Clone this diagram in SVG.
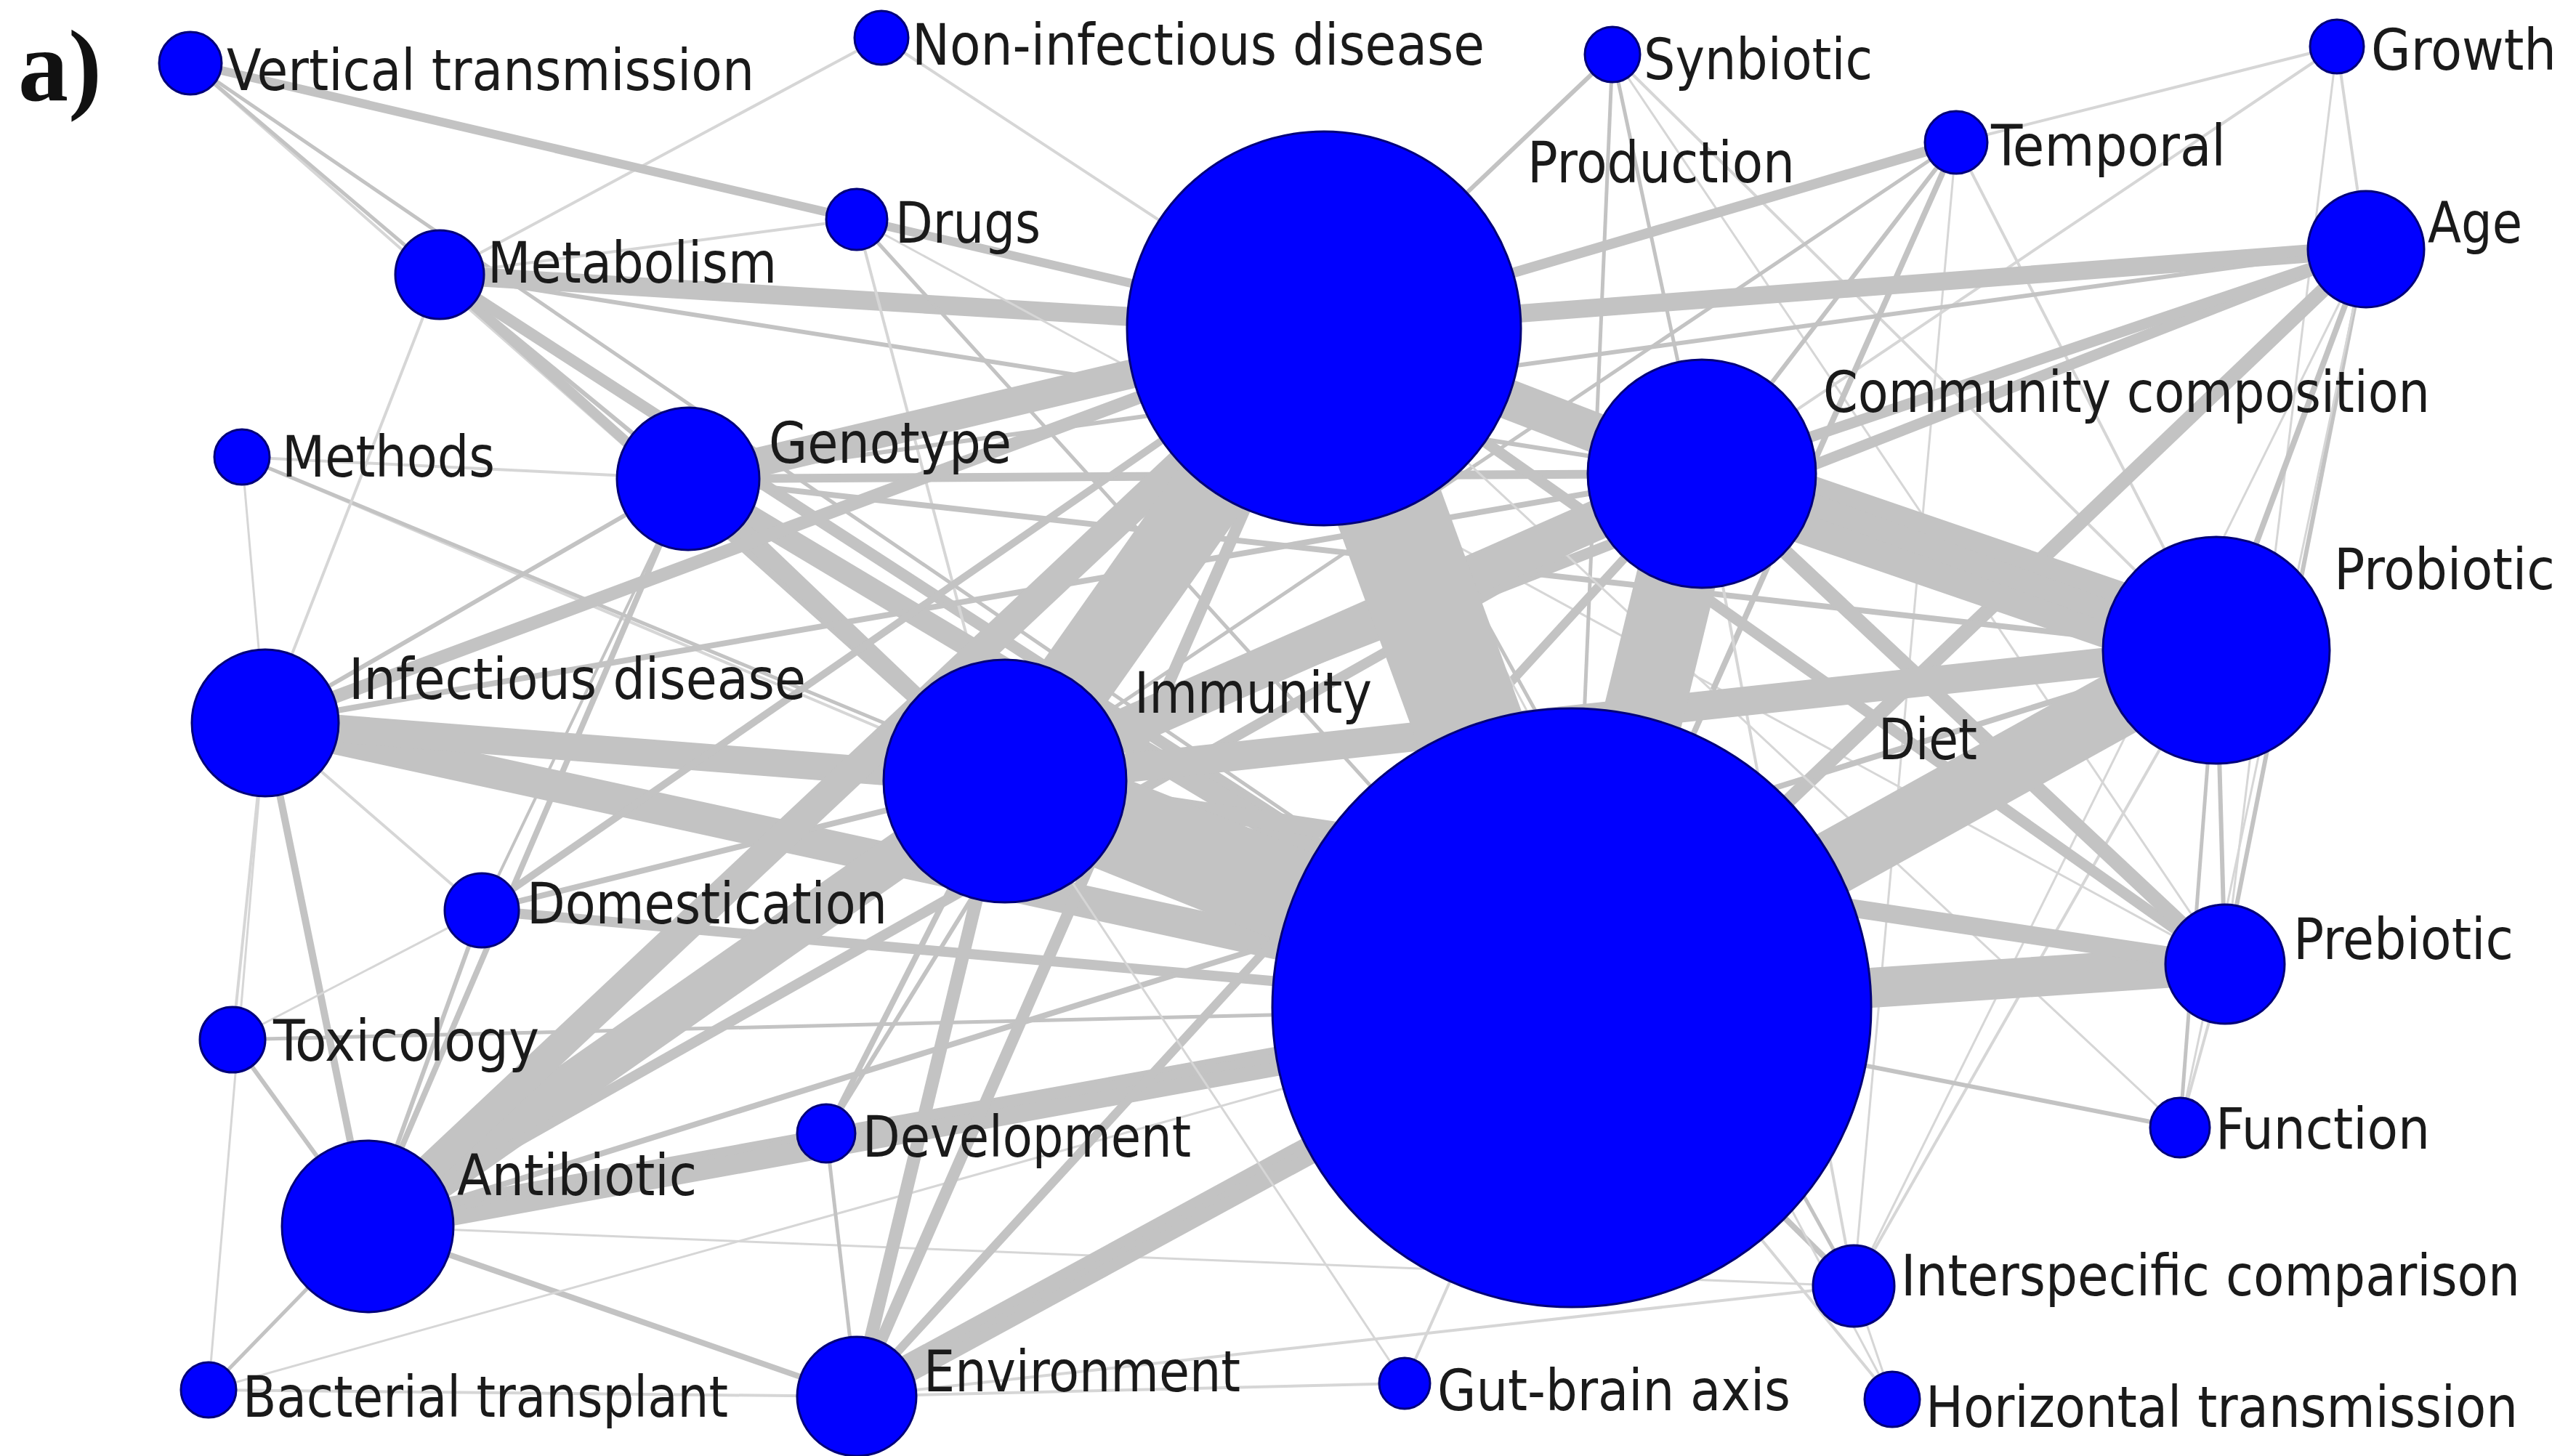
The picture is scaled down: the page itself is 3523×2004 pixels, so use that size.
<svg xmlns="http://www.w3.org/2000/svg" width="3523" height="2004" viewBox="0 0 3523 2004">
<style>
.e{stroke:#c3c3c3;stroke-linecap:butt}
.t{stroke:#d6d6d6;stroke-linecap:butt}
.n{fill:#0000ff;stroke:#00007a;stroke-width:3}
.l{font-family:"DejaVu Sans Condensed","DejaVu Sans",sans-serif;font-size:78px;fill:#1a1a1a}
.h{font-family:"Liberation Serif",serif;font-weight:bold;font-size:140px;fill:#111}
</style>
<rect width="3523" height="2004" fill="#ffffff"/>
<g id="edges">
<line class="t" x1="1213" y1="52" x2="1822" y2="452" stroke-width="4"/>
<line class="t" x1="1213" y1="52" x2="605" y2="378" stroke-width="4"/>
<line class="t" x1="262" y1="87" x2="1179" y2="302" stroke-width="4"/>
<line class="t" x1="262" y1="87" x2="1383" y2="1075" stroke-width="4"/>
<line class="e" x1="262" y1="87" x2="605" y2="378" stroke-width="5"/>
<line class="e" x1="262" y1="87" x2="2163" y2="1387" stroke-width="5"/>
<line class="e" x1="262" y1="87" x2="1822" y2="452" stroke-width="12"/>
<line class="t" x1="333" y1="629" x2="947" y2="659" stroke-width="4"/>
<line class="t" x1="333" y1="629" x2="1383" y2="1075" stroke-width="4"/>
<line class="e" x1="333" y1="629" x2="2163" y2="1387" stroke-width="5"/>
<line class="t" x1="333" y1="629" x2="365" y2="995" stroke-width="3"/>
<line class="t" x1="605" y1="378" x2="365" y2="995" stroke-width="4"/>
<line class="t" x1="605" y1="378" x2="1179" y2="302" stroke-width="4"/>
<line class="e" x1="605" y1="378" x2="2342" y2="652" stroke-width="6"/>
<line class="e" x1="605" y1="378" x2="947" y2="659" stroke-width="6"/>
<line class="e" x1="605" y1="378" x2="1383" y2="1075" stroke-width="14"/>
<line class="e" x1="605" y1="378" x2="2163" y2="1387" stroke-width="16"/>
<line class="e" x1="605" y1="378" x2="1822" y2="452" stroke-width="26"/>
<line class="e" x1="1179" y1="302" x2="1822" y2="452" stroke-width="8"/>
<line class="e" x1="1179" y1="302" x2="2163" y2="1387" stroke-width="5"/>
<line class="t" x1="1179" y1="302" x2="1383" y2="1075" stroke-width="4"/>
<line class="t" x1="1179" y1="302" x2="3062" y2="1327" stroke-width="3"/>
<line class="e" x1="2219" y1="75" x2="1822" y2="452" stroke-width="6"/>
<line class="e" x1="2219" y1="75" x2="2342" y2="652" stroke-width="5"/>
<line class="e" x1="2219" y1="75" x2="2163" y2="1387" stroke-width="5"/>
<line class="t" x1="2219" y1="75" x2="3050" y2="895" stroke-width="4"/>
<line class="t" x1="2219" y1="75" x2="3062" y2="1327" stroke-width="3"/>
<line class="t" x1="3216" y1="64" x2="2342" y2="652" stroke-width="4"/>
<line class="t" x1="3216" y1="64" x2="3062" y2="1327" stroke-width="3"/>
<line class="t" x1="3216" y1="64" x2="3256" y2="343" stroke-width="4"/>
<line class="t" x1="3216" y1="64" x2="2692" y2="196" stroke-width="4"/>
<line class="e" x1="2692" y1="196" x2="1822" y2="452" stroke-width="14"/>
<line class="e" x1="2692" y1="196" x2="2163" y2="1387" stroke-width="8"/>
<line class="e" x1="2692" y1="196" x2="2342" y2="652" stroke-width="6"/>
<line class="t" x1="2692" y1="196" x2="3050" y2="895" stroke-width="4"/>
<line class="e" x1="2692" y1="196" x2="1383" y2="1075" stroke-width="5"/>
<line class="t" x1="2692" y1="196" x2="2551" y2="1770" stroke-width="3"/>
<line class="e" x1="3256" y1="343" x2="1822" y2="452" stroke-width="25"/>
<line class="e" x1="3256" y1="343" x2="2163" y2="1387" stroke-width="20"/>
<line class="e" x1="3256" y1="343" x2="1383" y2="1075" stroke-width="15"/>
<line class="e" x1="3256" y1="343" x2="2342" y2="652" stroke-width="15"/>
<line class="e" x1="3256" y1="343" x2="3050" y2="895" stroke-width="8"/>
<line class="e" x1="3256" y1="343" x2="3062" y2="1327" stroke-width="6"/>
<line class="e" x1="3256" y1="343" x2="947" y2="659" stroke-width="6"/>
<line class="t" x1="3256" y1="343" x2="3000" y2="1552" stroke-width="3"/>
<line class="t" x1="3256" y1="343" x2="2551" y2="1770" stroke-width="3"/>
<line class="e" x1="947" y1="659" x2="1822" y2="452" stroke-width="40"/>
<line class="e" x1="947" y1="659" x2="2163" y2="1387" stroke-width="30"/>
<line class="e" x1="947" y1="659" x2="1383" y2="1075" stroke-width="24"/>
<line class="e" x1="947" y1="659" x2="2342" y2="652" stroke-width="12"/>
<line class="e" x1="947" y1="659" x2="3050" y2="895" stroke-width="8"/>
<line class="e" x1="947" y1="659" x2="365" y2="995" stroke-width="6"/>
<line class="e" x1="947" y1="659" x2="506" y2="1688" stroke-width="8"/>
<line class="e" x1="947" y1="659" x2="663" y2="1253" stroke-width="4"/>
<line class="e" x1="365" y1="995" x2="2163" y2="1387" stroke-width="44"/>
<line class="e" x1="365" y1="995" x2="1383" y2="1075" stroke-width="38"/>
<line class="e" x1="365" y1="995" x2="1822" y2="452" stroke-width="18"/>
<line class="e" x1="365" y1="995" x2="2342" y2="652" stroke-width="8"/>
<line class="e" x1="365" y1="995" x2="506" y2="1688" stroke-width="10"/>
<line class="t" x1="365" y1="995" x2="320" y2="1431" stroke-width="4"/>
<line class="t" x1="365" y1="995" x2="663" y2="1253" stroke-width="4"/>
<line class="t" x1="365" y1="995" x2="287" y2="1913" stroke-width="3"/>
<line class="e" x1="663" y1="1253" x2="2163" y2="1387" stroke-width="14"/>
<line class="e" x1="663" y1="1253" x2="1822" y2="452" stroke-width="10"/>
<line class="e" x1="663" y1="1253" x2="1383" y2="1075" stroke-width="8"/>
<line class="t" x1="663" y1="1253" x2="320" y2="1431" stroke-width="3"/>
<line class="e" x1="320" y1="1431" x2="2163" y2="1387" stroke-width="5"/>
<line class="e" x1="506" y1="1688" x2="1383" y2="1075" stroke-width="60"/>
<line class="e" x1="506" y1="1688" x2="2163" y2="1387" stroke-width="40"/>
<line class="e" x1="506" y1="1688" x2="1822" y2="452" stroke-width="40"/>
<line class="e" x1="506" y1="1688" x2="2342" y2="652" stroke-width="14"/>
<line class="e" x1="506" y1="1688" x2="3050" y2="895" stroke-width="8"/>
<line class="e" x1="506" y1="1688" x2="1179" y2="1922" stroke-width="8"/>
<line class="e" x1="506" y1="1688" x2="1137" y2="1560" stroke-width="6"/>
<line class="e" x1="506" y1="1688" x2="663" y2="1253" stroke-width="6"/>
<line class="e" x1="506" y1="1688" x2="320" y2="1431" stroke-width="6"/>
<line class="e" x1="506" y1="1688" x2="287" y2="1913" stroke-width="5"/>
<line class="t" x1="506" y1="1688" x2="2551" y2="1770" stroke-width="3"/>
<line class="t" x1="287" y1="1913" x2="1179" y2="1922" stroke-width="4"/>
<line class="t" x1="287" y1="1913" x2="2163" y2="1387" stroke-width="3"/>
<line class="e" x1="1137" y1="1560" x2="2163" y2="1387" stroke-width="12"/>
<line class="e" x1="1137" y1="1560" x2="1383" y2="1075" stroke-width="8"/>
<line class="e" x1="1137" y1="1560" x2="1822" y2="452" stroke-width="6"/>
<line class="e" x1="1137" y1="1560" x2="1179" y2="1922" stroke-width="5"/>
<line class="e" x1="1179" y1="1922" x2="2163" y2="1387" stroke-width="38"/>
<line class="e" x1="1179" y1="1922" x2="1383" y2="1075" stroke-width="18"/>
<line class="e" x1="1179" y1="1922" x2="1822" y2="452" stroke-width="16"/>
<line class="e" x1="1179" y1="1922" x2="2342" y2="652" stroke-width="12"/>
<line class="e" x1="1179" y1="1922" x2="3050" y2="895" stroke-width="8"/>
<line class="t" x1="1179" y1="1922" x2="1933" y2="1904" stroke-width="4"/>
<line class="t" x1="1179" y1="1922" x2="2551" y2="1770" stroke-width="4"/>
<line class="t" x1="1933" y1="1904" x2="2163" y2="1387" stroke-width="4"/>
<line class="t" x1="1933" y1="1904" x2="1383" y2="1075" stroke-width="3"/>
<line class="e" x1="2551" y1="1770" x2="2163" y2="1387" stroke-width="8"/>
<line class="e" x1="2551" y1="1770" x2="1822" y2="452" stroke-width="5"/>
<line class="t" x1="2551" y1="1770" x2="2342" y2="652" stroke-width="4"/>
<line class="t" x1="2551" y1="1770" x2="3050" y2="895" stroke-width="4"/>
<line class="t" x1="2551" y1="1770" x2="2604" y2="1926" stroke-width="3"/>
<line class="t" x1="2604" y1="1926" x2="2163" y2="1387" stroke-width="4"/>
<line class="t" x1="2604" y1="1926" x2="1822" y2="452" stroke-width="3"/>
<line class="e" x1="3000" y1="1552" x2="2163" y2="1387" stroke-width="6"/>
<line class="e" x1="3000" y1="1552" x2="3050" y2="895" stroke-width="5"/>
<line class="t" x1="3000" y1="1552" x2="3062" y2="1327" stroke-width="4"/>
<line class="t" x1="3000" y1="1552" x2="1822" y2="452" stroke-width="3"/>
<line class="e" x1="3062" y1="1327" x2="2163" y2="1387" stroke-width="55"/>
<line class="e" x1="3062" y1="1327" x2="1383" y2="1075" stroke-width="25"/>
<line class="e" x1="3062" y1="1327" x2="1822" y2="452" stroke-width="15"/>
<line class="e" x1="3062" y1="1327" x2="2342" y2="652" stroke-width="20"/>
<line class="e" x1="3062" y1="1327" x2="3050" y2="895" stroke-width="6"/>
<line class="e" x1="3050" y1="895" x2="2342" y2="652" stroke-width="95"/>
<line class="e" x1="3050" y1="895" x2="2163" y2="1387" stroke-width="90"/>
<line class="e" x1="3050" y1="895" x2="1383" y2="1075" stroke-width="40"/>
<line class="e" x1="3050" y1="895" x2="1822" y2="452" stroke-width="30"/>
<line class="e" x1="2342" y1="652" x2="2163" y2="1387" stroke-width="110"/>
<line class="e" x1="2342" y1="652" x2="1822" y2="452" stroke-width="55"/>
<line class="e" x1="2342" y1="652" x2="1383" y2="1075" stroke-width="55"/>
<line class="e" x1="1383" y1="1075" x2="1822" y2="452" stroke-width="105"/>
<line class="e" x1="1383" y1="1075" x2="2163" y2="1387" stroke-width="130"/>
<line class="e" x1="1822" y1="452" x2="2163" y2="1387" stroke-width="150"/>
</g>
<text class="h" x="25" y="138" textLength="115" lengthAdjust="spacingAndGlyphs">a)</text>
<g id="n-production"><circle class="n" cx="1822" cy="452" r="271"/><text class="l" x="2102" y="251" textLength="368" lengthAdjust="spacingAndGlyphs">Production</text></g>
<g id="n-diet"><circle class="n" cx="2163" cy="1387" r="412"/><text class="l" x="2585" y="1045" textLength="136" lengthAdjust="spacingAndGlyphs">Diet</text></g>
<g id="n-immunity"><circle class="n" cx="1383" cy="1075" r="167"/><text class="l" x="1561" y="981" textLength="327" lengthAdjust="spacingAndGlyphs">Immunity</text></g>
<g id="n-community"><circle class="n" cx="2342" cy="652" r="157"/><text class="l" x="2509" y="567" textLength="835" lengthAdjust="spacingAndGlyphs">Community composition</text></g>
<g id="n-probiotic"><circle class="n" cx="3050" cy="895" r="156"/><text class="l" x="3212" y="811" textLength="304" lengthAdjust="spacingAndGlyphs">Probiotic</text></g>
<g id="n-infectious"><circle class="n" cx="365" cy="995" r="101"/><text class="l" x="480" y="962" textLength="629" lengthAdjust="spacingAndGlyphs">Infectious disease</text></g>
<g id="n-antibiotic"><circle class="n" cx="506" cy="1688" r="118"/><text class="l" x="629" y="1645" textLength="330" lengthAdjust="spacingAndGlyphs">Antibiotic</text></g>
<g id="n-genotype"><circle class="n" cx="947" cy="659" r="98"/><text class="l" x="1058" y="637" textLength="334" lengthAdjust="spacingAndGlyphs">Genotype</text></g>
<g id="n-environment"><circle class="n" cx="1179" cy="1922" r="82"/><text class="l" x="1271" y="1915" textLength="436" lengthAdjust="spacingAndGlyphs">Environment</text></g>
<g id="n-prebiotic"><circle class="n" cx="3062" cy="1327" r="82"/><text class="l" x="3156" y="1320" textLength="303" lengthAdjust="spacingAndGlyphs">Prebiotic</text></g>
<g id="n-age"><circle class="n" cx="3256" cy="343" r="80"/><text class="l" x="3341" y="334" textLength="130" lengthAdjust="spacingAndGlyphs">Age</text></g>
<g id="n-metabolism"><circle class="n" cx="605" cy="378" r="61"/><text class="l" x="671" y="389" textLength="398" lengthAdjust="spacingAndGlyphs">Metabolism</text></g>
<g id="n-interspecific"><circle class="n" cx="2551" cy="1770" r="56"/><text class="l" x="2616" y="1783" textLength="852" lengthAdjust="spacingAndGlyphs">Interspecific comparison</text></g>
<g id="n-domestication"><circle class="n" cx="663" cy="1253" r="51"/><text class="l" x="725" y="1271" textLength="496" lengthAdjust="spacingAndGlyphs">Domestication</text></g>
<g id="n-toxicology"><circle class="n" cx="320" cy="1431" r="45"/><text class="l" x="376" y="1460" textLength="366" lengthAdjust="spacingAndGlyphs">Toxicology</text></g>
<g id="n-temporal"><circle class="n" cx="2692" cy="196" r="43"/><text class="l" x="2740" y="228" textLength="323" lengthAdjust="spacingAndGlyphs">Temporal</text></g>
<g id="n-vertical"><circle class="n" cx="262" cy="87" r="43"/><text class="l" x="312" y="124" textLength="726" lengthAdjust="spacingAndGlyphs">Vertical transmission</text></g>
<g id="n-drugs"><circle class="n" cx="1179" cy="302" r="42"/><text class="l" x="1232" y="334" textLength="200" lengthAdjust="spacingAndGlyphs">Drugs</text></g>
<g id="n-function"><circle class="n" cx="3000" cy="1552" r="41"/><text class="l" x="3049" y="1581" textLength="295" lengthAdjust="spacingAndGlyphs">Function</text></g>
<g id="n-development"><circle class="n" cx="1137" cy="1560" r="40"/><text class="l" x="1187" y="1592" textLength="452" lengthAdjust="spacingAndGlyphs">Development</text></g>
<g id="n-methods"><circle class="n" cx="333" cy="629" r="38"/><text class="l" x="388" y="656" textLength="293" lengthAdjust="spacingAndGlyphs">Methods</text></g>
<g id="n-synbiotic"><circle class="n" cx="2219" cy="75" r="38"/><text class="l" x="2262" y="109" textLength="315" lengthAdjust="spacingAndGlyphs">Synbiotic</text></g>
<g id="n-bacterial"><circle class="n" cx="287" cy="1913" r="38"/><text class="l" x="334" y="1950" textLength="668" lengthAdjust="spacingAndGlyphs">Bacterial transplant</text></g>
<g id="n-horizontal"><circle class="n" cx="2604" cy="1926" r="38"/><text class="l" x="2650" y="1964" textLength="815" lengthAdjust="spacingAndGlyphs">Horizontal transmission</text></g>
<g id="n-noninfectious"><circle class="n" cx="1213" cy="52" r="37"/><text class="l" x="1255" y="89" textLength="788" lengthAdjust="spacingAndGlyphs">Non-infectious disease</text></g>
<g id="n-growth"><circle class="n" cx="3216" cy="64" r="37"/><text class="l" x="3263" y="96" textLength="255" lengthAdjust="spacingAndGlyphs">Growth</text></g>
<g id="n-gutbrain"><circle class="n" cx="1933" cy="1904" r="35"/><text class="l" x="1978" y="1941" textLength="486" lengthAdjust="spacingAndGlyphs">Gut-brain axis</text></g>
</svg>
